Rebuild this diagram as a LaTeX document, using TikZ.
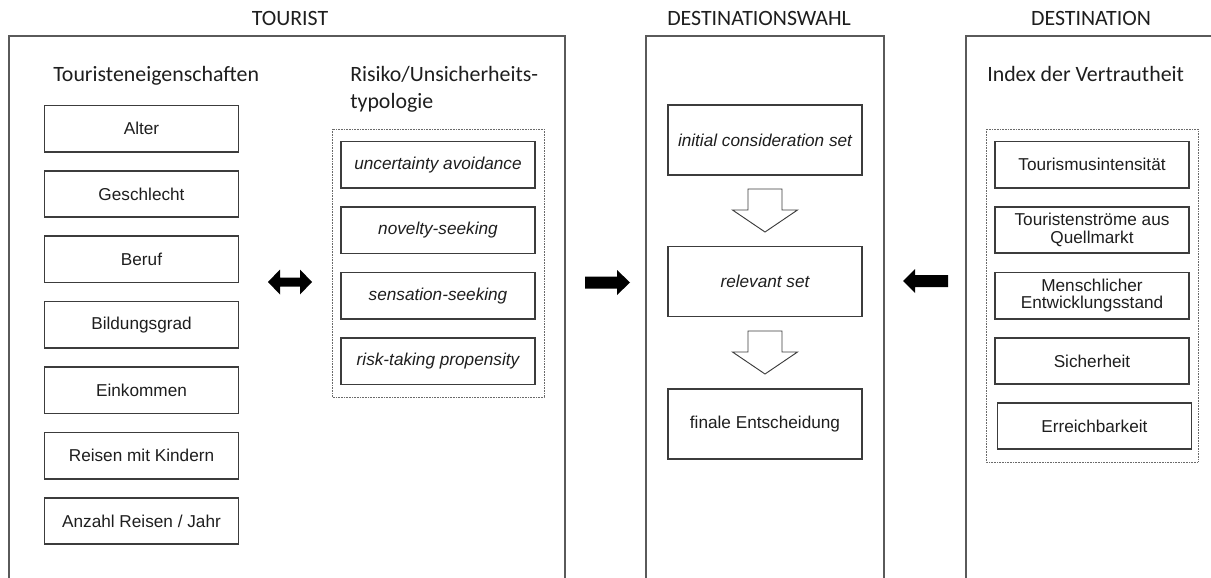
\documentclass[tikz,border=0pt]{standalone}
\usepackage{fontspec}
\setmainfont{Liberation Sans}
\newfontfamily\headfont{Carlito}
\definecolor{panelgray}{HTML}{5A5A5A}
\definecolor{boxgray}{HTML}{3C3C3C}
\definecolor{dotgray}{HTML}{6A6A6A}
\definecolor{ink}{HTML}{1E1E1E}
\begin{document}
\begin{tikzpicture}[x=0.75pt,y=-0.75pt,
  panel/.style={draw=panelgray, line width=1.5pt},
  heading/.style={font=\headfont\fontsize{16.4}{20}\selectfont, text=ink, inner sep=0pt},
  itembox/.style={draw=boxgray, line width=1.1pt, minimum width=145.5pt, minimum height=34.8pt,
                  inner sep=1pt, align=center, text=ink,
                  font=\fontsize{12.9}{13}\selectfont},
  italbox/.style={itembox, font=\fontsize{12.9}{13}\selectfont\itshape},
  stagebox/.style={itembox, minimum height=52.5pt},
  group/.style={draw=dotgray, line width=0.6pt, dash pattern=on 0.6pt off 0.6pt},
  blockarrow/.style={fill=black},
  hollowarrow/.style={draw=boxgray, fill=white, line width=0.7pt, line join=miter}]

\useasboundingbox (0,0) rectangle (1211,578);

% ---- column titles
\node[heading, anchor=base] (tTourist) at (290,25.7) {TOURIST};
\node[heading, anchor=base west] (tWahl) at (667,25.7) {DESTINATIONSWAHL};
\node[heading, anchor=base] (tDest) at (1091,25.7) {DESTINATION};

% ---- three open-bottom panels
\draw[panel] (9,580) -- (9,36) -- (565,36) -- (565,580);
\draw[panel] (646,580) -- (646,36) -- (884,36) -- (884,580);
\draw[panel] (966,580) -- (966,36) -- (1215,36);

% ---- tourist characteristics
\node[heading, anchor=base west] (hEig) at (53,81.7) {Touristeneigenschaften};
\foreach \lbl [count=\i from 0] in {Alter,Geschlecht,Beruf,Bildungsgrad,Einkommen,Reisen mit Kindern,Anzahl Reisen / Jahr}
  \node[itembox] (eig\i) at (141.5,{128.6+65.4*\i}) {\lbl};

% ---- risk / uncertainty typology
\node[heading, anchor=base west] (hRisk1) at (350,81.7) {Risiko/Unsicherheits-};
\node[heading, anchor=base west] (hRisk2) at (350,108.5) {typologie};
\draw[group] (332,129) rectangle (544,397);
\foreach \lbl [count=\i from 0] in {uncertainty avoidance,novelty-seeking,sensation-seeking,risk-taking propensity}
  \node[italbox] (risk\i) at (438,{164.7+65.5*\i}) {\lbl};

% ---- destination choice stages
\node[stagebox, font=\fontsize{12.9}{13}\selectfont\itshape] (s1) at (765,140) {initial consideration set};
\node[stagebox, font=\fontsize{12.9}{13}\selectfont\itshape] (s2) at (765,281.7) {relevant set};
\node[stagebox] (s3) at (765,424) {finale Entscheidung};

\coordinate (d1) at (765,189);
\coordinate (d2) at (765,331);
\foreach \c in {d1,d2}
  \draw[hollowarrow, shift={(\c)}] (-17,0) -- (17,0) -- (17,21) -- (32.5,21) -- (0,43)
       -- (-32.5,21) -- (-17,21) -- cycle;

% ---- familiarity index
\node[heading, anchor=base west] (hIdx) at (987,81.7) {Index der Vertrautheit};
\draw[group] (986,129) rectangle (1198,462);
\node[itembox] (i0) at (1092,164.7) {Tourismusintensität};
\node[itembox] (i1) at (1092,230) {Touristenströme aus\\Quellmarkt};
\node[itembox] (i2) at (1092,295.6) {Menschlicher\\Entwicklungsstand};
\node[itembox] (i3) at (1092,361) {Sicherheit};
\node[itembox] (i4) at (1094.4,426) {Erreichbarkeit};

% ---- block arrows between the columns
\coordinate (aBoth) at (290,282);
\coordinate (aRight) at (630,282.5);
\coordinate (aLeft) at (903,281);
\fill[blockarrow, shift={(aBoth)}] (-22,0) -- (-10,-12.5) -- (-10,-4.5) -- (10,-4.5) -- (10,-12.5)
     -- (22,0) -- (10,12.5) -- (10,4.5) -- (-10,4.5) -- (-10,12.5) -- cycle;
\fill[blockarrow, shift={(aRight)}] (0,0) -- (-13,-12.5) -- (-13,-6) -- (-45,-6) -- (-45,6)
     -- (-13,6) -- (-13,12.5) -- cycle;
\fill[blockarrow, shift={(aLeft)}] (0,0) -- (12,-12) -- (12,-6) -- (45,-6) -- (45,6)
     -- (12,6) -- (12,12) -- cycle;
\end{tikzpicture}
\end{document}
